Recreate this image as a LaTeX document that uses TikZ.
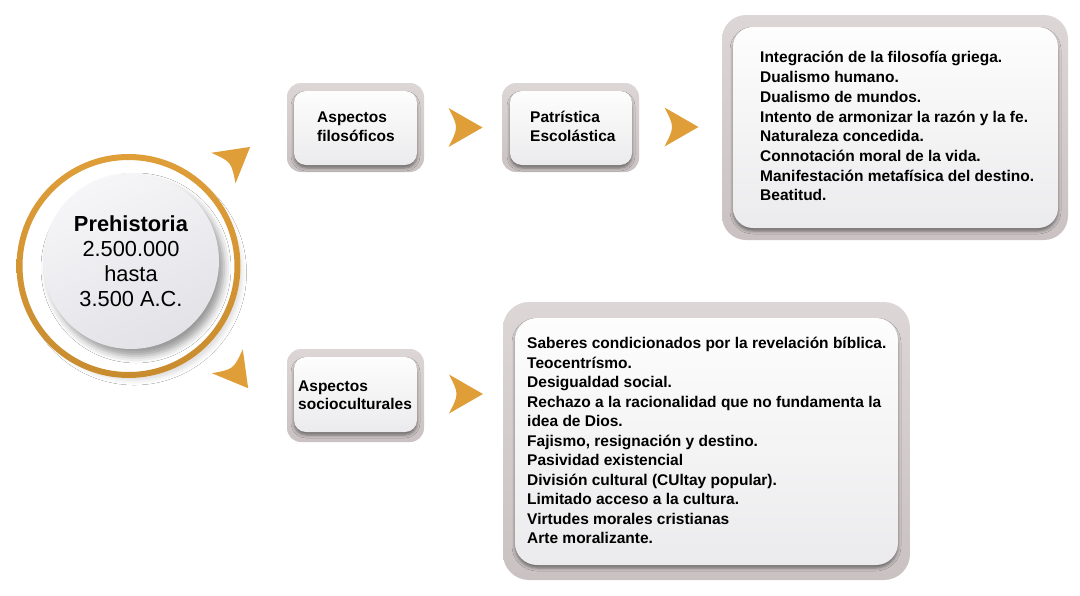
\documentclass[tikz,border=0pt]{standalone}
\usepackage{fontspec}
\setmainfont{Liberation Sans}
\usetikzlibrary{shadows.blur,calc}
\definecolor{gold}{HTML}{DF9E38}
\definecolor{golddark}{HTML}{C88C2F}
\definecolor{frameT}{HTML}{DDD6D6}
\definecolor{frameB}{HTML}{CAC2C2}
\definecolor{paperT}{HTML}{FDFDFD}
\definecolor{paperB}{HTML}{EBEBED}
\definecolor{diskT}{HTML}{F6F6F8}
\definecolor{diskB}{HTML}{E2E2E7}
\tikzset{
  frame/.style={rectangle, rounded corners=#1, top color=frameT, bottom color=frameB, draw=none, inner sep=0pt},
  frame/.default=14pt,
  paper/.style={rectangle, rounded corners=#1, top color=paperT, bottom color=paperB, draw=none, inner sep=0pt,
    blur shadow={shadow xshift=0pt, shadow yshift=-3pt, shadow blur radius=3pt, shadow opacity=45}},
  paper/.default=12pt,
  txt/.style={font=\bfseries\fontsize{15.5}{18.5}\selectfont, align=left, inner sep=0pt, anchor=west},
  listtxt/.style={txt, font=\bfseries\fontsize{15.5}{19.7}\selectfont},
  garrow/.pic={\fill[gold] (-17,-19.5) .. controls (-7,0) .. (-17,19.5) -- (17,0) -- cycle;},
}
\begin{document}
\begin{tikzpicture}[x=1pt,y=-1pt]
\useasboundingbox[fill=white] (0,0) rectangle (1080,595);

% central circle
\node[circle, minimum size=224pt, inner sep=0pt, fill=white,
  blur shadow={shadow xshift=6pt, shadow yshift=-7pt, shadow scale=0.96, shadow blur radius=5pt, shadow opacity=14}] (ring) at (128.5,266) {};
\shade[top color=gold, bottom color=golddark, even odd rule] (ring.center) circle[radius=112] circle[radius=106];
\node[circle, minimum size=176pt, inner sep=0pt, top color=diskT, bottom color=diskB, shading angle=25,
  blur shadow={shadow xshift=5pt, shadow yshift=-7pt, shadow blur radius=7pt, shadow opacity=40},
  align=center, font=\fontsize{21.8}{25}\selectfont] (c) at (131,261)
  {\textbf{Prehistoria}\\2.500.000\\hasta\\3.500 A.C.};

% arrows around circle
\pic[rotate=38.4] at (236.75,157.5) {garrow};
\pic[rotate=-52.3] at (237.75,374.75) {garrow};

% Aspectos filosoficos
\node[frame=14pt, minimum width=137pt, minimum height=89pt] (afF) at (355.5,127.5) {};
\node[paper=12pt, minimum width=123pt, minimum height=74pt] (af) at (355.5,128) {};
\node[txt] (afT) at (317,126.5) {Aspectos\\filosóficos};

\pic at (465.5,127.5) {garrow};

% Patristica
\node[frame=14pt, minimum width=137pt, minimum height=89pt] (peF) at (570.5,127.5) {};
\node[paper=12pt, minimum width=122pt, minimum height=74pt] (pe) at (571,128) {};
\node[txt] (peT) at (530,126.5) {Patrística\\Escolástica};

\pic at (681.5,127) {garrow};

% top list
\node[frame=24pt, minimum width=346pt, minimum height=225pt] (tF) at (895,127.5) {};
\node[paper=20pt, minimum width=325pt, minimum height=201pt] (t) at (895.5,127.5) {};
\node[listtxt] (tT) at (760,126.3) {Integración de la filosofía griega.\\
Dualismo humano.\\
Dualismo de mundos.\\
Intento de armonizar la razón y la fe.\\
Naturaleza concedida.\\
Connotación moral de la vida.\\
Manifestación metafísica del destino.\\
Beatitud.};

% Aspectos socioculturales
\node[frame=14pt, minimum width=137pt, minimum height=93pt] (asF) at (355.5,395.5) {};
\node[paper=12pt, minimum width=123pt, minimum height=75pt] (as) at (355.5,394.5) {};
\node[txt] (asT) at (298,395) {Aspectos\\socioculturales};

\pic at (466,394) {garrow};

% bottom list
\node[frame=26pt, minimum width=407pt, minimum height=278pt] (bF) at (706.5,441) {};
\node[paper=22pt, minimum width=383pt, minimum height=247pt] (b) at (706.5,441.5) {};
\node[txt, font=\bfseries\fontsize{15.5}{19.5}\selectfont] (bT) at (527,440.5) {Saberes condicionados por la revelación bíblica.\\
Teocentrísmo.\\
Desigualdad social.\\
Rechazo a la racionalidad que no fundamenta la\\
idea de Dios.\\
Fajismo, resignación y destino.\\
Pasividad existencial\\
División cultural (CUltay popular).\\
Limitado acceso a la cultura.\\
Virtudes morales cristianas\\
Arte moralizante.};
\end{tikzpicture}
\end{document}
